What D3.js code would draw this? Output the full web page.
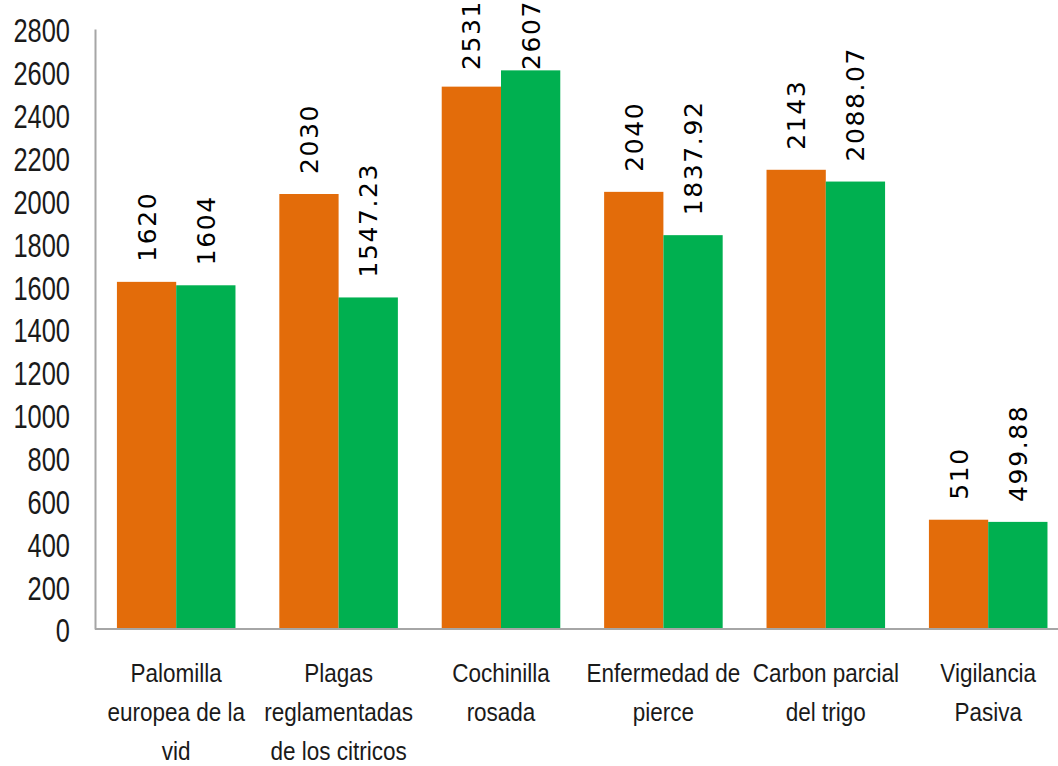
<!DOCTYPE html>
<html>
<head>
<meta charset="utf-8">
<script src="https://cdn.jsdelivr.net/npm/d3@7"></script>
<style>
  body { margin: 0; background: #fff; }
  svg { display: block; }
</style>
</head>
<body>
<script>
const categories = [
  ["Palomilla", "europea de la", "vid"],
  ["Plagas", "reglamentadas", "de los citricos"],
  ["Cochinilla", "rosada"],
  ["Enfermedad de", "pierce"],
  ["Carbon parcial", "del trigo"],
  ["Vigilancia", "Pasiva"]
];
const seriesOrange = [1620, 2030, 2531, 2040, 2143, 510];
const seriesGreen = [1604, 1547.23, 2607, 1837.92, 2088.07, 499.88];
const labelsOrange = ["1620", "2030", "2531", "2040", "2143", "510"];
const labelsGreen = ["1604", "1547.23", "2607", "1837.92", "2088.07", "499.88"];
const yTicks = d3.range(0, 2801, 200);

const width = 1058;
const height = 766;
const plotLeft = 95;
const plotTop = 29;
const plotBottom = 629;
const step = 162.4;

const svg = d3
  .select("body")
  .append("svg")
  .attr("width", width)
  .attr("height", height);

const keys = categories.map((d, i) => i);

const x = d3
  .scaleBand()
  .domain(keys)
  .range([plotLeft, plotLeft + step * categories.length])
  .paddingInner(0.27)
  .paddingOuter(0.135);

const xSub = d3
  .scaleBand()
  .domain(["orange", "green"])
  .range([0, x.bandwidth()]);

const y = d3.scaleLinear().domain([0, 2800]).range([plotBottom, plotTop]);

const series = [
  { key: "orange", color: "#E36C0A", values: seriesOrange, labels: labelsOrange },
  { key: "green", color: "#00B050", values: seriesGreen, labels: labelsGreen }
];

// bars
series.forEach((s) => {
  svg
    .append("g")
    .selectAll("rect")
    .data(s.values)
    .enter()
    .append("rect")
    .attr("x", (d, i) => x(i) + xSub(s.key))
    .attr("y", (d) => y(d))
    .attr("width", xSub.bandwidth())
    .attr("height", (d) => y(0) - y(d))
    .attr("fill", s.color);
});

// value labels (pushed down when they would run off the top, like excel)
series.forEach((s) => {
  svg
    .append("g")
    .selectAll("text")
    .data(s.values)
    .enter()
    .append("text")
    .attr("dy", "0.36em")
    .style("font-family", "'DejaVu Sans', Verdana, sans-serif")
    .style("font-size", "25px")
    .style("letter-spacing", "1.6px")
    .style("fill", "#000")
    .text((d, i) => s.labels[i])
    .attr("transform", function (d, i) {
      const cx = x(i) + xSub(s.key) + xSub.bandwidth() / 2;
      const len = this.getComputedTextLength();
      const ly = Math.max(y(d) - 20, len);
      return `translate(${cx}, ${ly}) rotate(-90)`;
    });
});

// y axis
const yAxis = d3
  .axisLeft(y)
  .tickValues(yTicks)
  .tickSize(0)
  .tickFormat(d3.format("d"));
const yg = svg
  .append("g")
  .attr("transform", `translate(${plotLeft}, 0)`)
  .call(yAxis);
yg.select(".domain").attr("stroke", "#a6a6a6").attr("stroke-width", 2);
yg.selectAll(".tick text")
  .attr("x", 0)
  .attr("dy", "0.36em")
  .attr("transform", "translate(-25, 1) scale(0.77, 1)")
  .style("font-family", "'Liberation Sans', Arial, sans-serif")
  .style("font-size", "33px")
  .style("fill", "#1a1a1a");

// x axis baseline
const xAxis = d3.axisBottom(x).tickSize(0).tickFormat("");
const xg = svg
  .append("g")
  .attr("transform", `translate(0, ${plotBottom})`)
  .call(xAxis);
xg.select(".domain")
  .attr("d", `M${plotLeft},0H${plotLeft + step * categories.length}`)
  .attr("stroke", "#a6a6a6")
  .attr("stroke-width", 2);

// category labels
const catLabels = svg
  .append("g")
  .selectAll("text")
  .data(categories)
  .enter()
  .append("text")
  .attr("transform", (d, i) => `translate(${x(i) + x.bandwidth() / 2}, 682) scale(0.9, 1)`)
  .attr("text-anchor", "middle")
  .style("font-family", "'Liberation Sans', Arial, sans-serif")
  .style("font-size", "25px")
  .style("fill", "#1a1a1a");

catLabels
  .selectAll("tspan")
  .data((d) => d)
  .enter()
  .append("tspan")
  .attr("x", 0)
  .attr("dy", (d, j) => (j === 0 ? 0 : 39))
  .text((d) => d);
</script>
</body>
</html>
